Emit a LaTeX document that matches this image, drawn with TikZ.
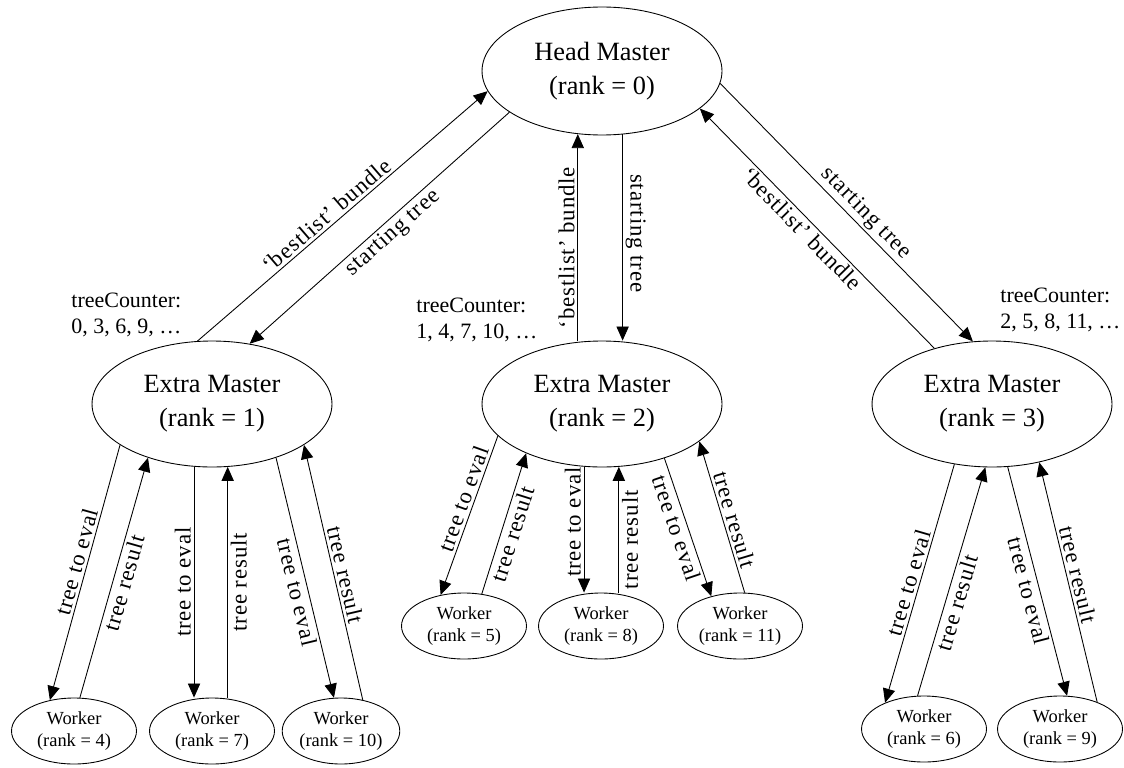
\documentclass[tikz,border=0pt]{standalone}
\usepackage{fontspec}
\setmainfont{Liberation Serif}
\newfontfamily\lblfont[LetterSpace=4]{Liberation Serif}
\usetikzlibrary{shapes.geometric,arrows.meta}

\tikzset{
  master/.style={draw, ellipse, minimum width=4.8cm, minimum height=2.52cm, inner sep=0pt,
    align=center, font=\fontsize{15}{19.4}\selectfont},
  worker/.style={draw, ellipse, minimum width=2.5cm, minimum height=1.32cm, inner sep=0pt,
    align=center, font=\fontsize{10.5}{12.5}\selectfont},
  counter/.style={anchor=west, align=left, inner sep=0pt, font=\fontsize{12.5}{14.8}\selectfont},
  lbl/.style={sloped, allow upside down, inner sep=1.5pt, font=\lblfont\fontsize{13}{15}\selectfont},
  send/.style={-{Triangle[length=8pt,width=7pt]}},
  back/.style={{Triangle[length=8pt,width=7pt]}-}
}

\begin{document}
\begin{tikzpicture}[x=0.02cm, y=-0.02cm, line width=0.5pt]
\useasboundingbox (0,0) rectangle (1124,767);

% masters
\node[master, minimum height=2.56cm] (head) at (602,71) {Head Master\\(rank = 0)};
\node[master] (em1) at (212,404) {Extra Master\\(rank = 1)};
\node[master] (em2) at (602,404) {Extra Master\\(rank = 2)};
\node[master] (em3) at (992,404) {Extra Master\\(rank = 3)};

% workers
\node[worker] (w4) at (74,731) {Worker\\(rank = 4)};
\node[worker] (w7) at (212,731) {Worker\\(rank = 7)};
\node[worker, minimum width=2.16cm] (w10) at (341,731) {Worker\\(rank = 10)};
\node[worker] (w5) at (464,626) {Worker\\(rank = 5)};
\node[worker] (w8) at (601,626) {Worker\\(rank = 8)};
\node[worker] (w11) at (740,626) {Worker\\(rank = 11)};
\node[worker] (w6) at (924,729) {Worker\\(rank = 6)};
\node[worker] (w9) at (1060,729) {Worker\\(rank = 9)};

% tree counters
\node[counter] (tc1) at (71,315) {treeCounter:\\0, 3, 6, 9, \ldots};
\node[counter] (tc2) at (416,320) {treeCounter:\\1, 4, 7, 10, \ldots};
\node[counter] (tc3) at (1000,310) {treeCounter:\\2, 5, 8, 11, \ldots};

% head master <-> extra masters
\draw[send] (em1.103) -- node[lbl, pos=0.47, above] {‘bestlist’ bundle} (head.190);
\draw[back] (em1.58) -- node[lbl, pos=0.52, below] {starting tree} (head.204);
\draw[send] (head.249 |- em2.north) -- node[lbl, pos=0.45, above] {‘bestlist’ bundle} (head.249);
\draw[send] (head.288) -- node[lbl, pos=0.48, above] {starting tree} (head.288 |- em2.north);
\draw[send] (head.354) -- node[lbl, pos=0.54, above] {starting tree} (em3.107);
\draw[back] (head.339) -- node[lbl, pos=0.47, below] {‘bestlist’ bundle} (em3.136);

% extra master 1 <-> workers
\draw[back] (w4.128) -- node[lbl, pos=0.53, above] {tree to eval} (em1.204);
\draw[send] (w4.80) -- node[lbl, pos=0.49, below] {tree result} (em1.220);
\draw[back] (em1.254 |- w7.north) -- node[lbl, above] {tree to eval} (em1.254);
\draw[send] (em1.284 |- w7.north) -- node[lbl, below] {tree result} (em1.284);
\draw[send] (em1.320) -- node[lbl, pos=0.55, below] {tree to eval} (w10.102);
\draw[back] (em1.336) -- node[lbl, pos=0.52, above] {tree result} (w10.55);

% extra master 2 <-> workers
\draw[back] (w5.127) -- node[lbl, pos=0.58, above] {tree to eval} (em2.197);
\draw[send] (w5.61) -- node[lbl, pos=0.45, below] {tree result} (em2.213);
\draw[back] (em2.254 |- w8.north) -- node[lbl, pos=0.56, above] {tree to eval} (em2.254);
\draw[send] (em2.285 |- w8.north) -- node[lbl, pos=0.42, below] {tree result} (em2.285);
\draw[send] (em2.319) -- node[lbl, pos=0.48, below] {tree to eval} (w11.134);
\draw[back] (em2.339) -- node[lbl, pos=0.54, above] {tree result} (w11.82);

% extra master 3 <-> workers
\draw[back] (w6.146) -- node[lbl, pos=0.49, above] {tree to eval} (em3.238);
\draw[send] (w6.101) -- node[lbl, pos=0.42, below] {tree result} (em3.264);
\draw[send] (em3.284) -- node[lbl, pos=0.53, below] {tree to eval} (w9.78);
\draw[back] (em3.309) -- node[lbl, pos=0.48, above] {tree result} (w9.36);
\end{tikzpicture}
\end{document}
